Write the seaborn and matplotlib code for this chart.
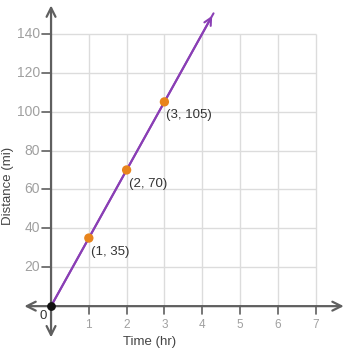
import matplotlib
matplotlib.use("Agg")
import matplotlib.pyplot as plt
import seaborn as sns
import pandas as pd

hours = [1, 2, 3]
miles = [35, 70, 105]
point_labels = ["(1, 35)", "(2, 70)", "(3, 105)"]
x_ticks = [1, 2, 3, 4, 5, 6, 7]
y_ticks = [20, 40, 60, 80, 100, 120, 140]
rate = 35
line_end = 4.3

sns.set_theme(style="white")
plt.rcParams["font.family"] = ["Liberation Sans", "DejaVu Sans"]

fig = plt.figure(figsize=(3.48, 3.51), dpi=100)
ax = fig.add_axes([0.062, 0.028, 0.937, 0.970])
ax.set_xlim(-0.78, 7.85)
ax.set_ylim(-18, 157)
for s in ax.spines.values():
    s.set_visible(False)
ax.set_xticks([])
ax.set_yticks([])

grid_c = "#dcdcdc"
axis_c = "#5f5f5f"
label_c = "#a0a0a0"

# first-quadrant grid
ax.vlines(x_ticks, 0, max(y_ticks), color=grid_c, lw=1.0, zorder=1)
ax.hlines(y_ticks, 0, max(x_ticks), color=grid_c, lw=1.0, zorder=1)

# axes with arrowheads at both ends
arrow = dict(arrowstyle="<->", color=axis_c, lw=1.6, mutation_scale=16)
ax.annotate("", xy=(-0.78, 0), xytext=(7.82, 0), arrowprops=arrow, zorder=2)
ax.annotate("", xy=(0, -17.5), xytext=(0, 156), arrowprops=arrow, zorder=2)

# tick marks and labels
for x in x_ticks:
    ax.plot([x, x], [0, -4], color=axis_c, lw=1.2, zorder=2)
    ax.text(x, -9.5, str(x), ha="center", va="center", fontsize=8.5, color=label_c)
for y in y_ticks:
    ax.plot([-0.24, 0], [y, y], color=axis_c, lw=1.2, zorder=2)
    ax.text(-0.29, y, str(y), ha="right", va="center", fontsize=10, color=label_c)
ax.text(-0.22, -5, "0", ha="center", va="center", fontsize=9.5, color="#333333")

ax.text(2.6, -18.5, "Time (hr)", ha="center", va="center", fontsize=9.5,
        color="#444444", clip_on=False)
ax.text(-1.14, 62, "Distance (mi)", ha="center", va="center", rotation=90,
        fontsize=9.5, color="#444444", clip_on=False)

# distance line
line_df = pd.DataFrame({"t": [0, line_end], "d": [0, rate * line_end]})
ax.annotate("", xy=(line_end, rate * line_end), xytext=(0, 0),
            arrowprops=dict(arrowstyle="->", color="#8a3fb5", lw=1.5, mutation_scale=13),
            zorder=3)
sns.lineplot(data=line_df, x="t", y="d", ax=ax, color="#8a3fb5", lw=1.5, zorder=3)
ax.set_xlabel("")
ax.set_ylabel("")

pts = pd.DataFrame({"t": hours, "d": miles})
sns.scatterplot(data=pts, x="t", y="d", ax=ax, color="#e8841c", s=45,
                edgecolor="none", zorder=4)
ax.set_xlabel("")
ax.set_ylabel("")
ax.scatter([0], [0], color="#111111", s=28, zorder=5)

for x, y, lab in zip(hours, miles, point_labels):
    ax.text(x + 0.05, y - 7, lab, ha="left", va="center", fontsize=9.5, color="#333333")

fig.savefig("out.png", dpi=100)
